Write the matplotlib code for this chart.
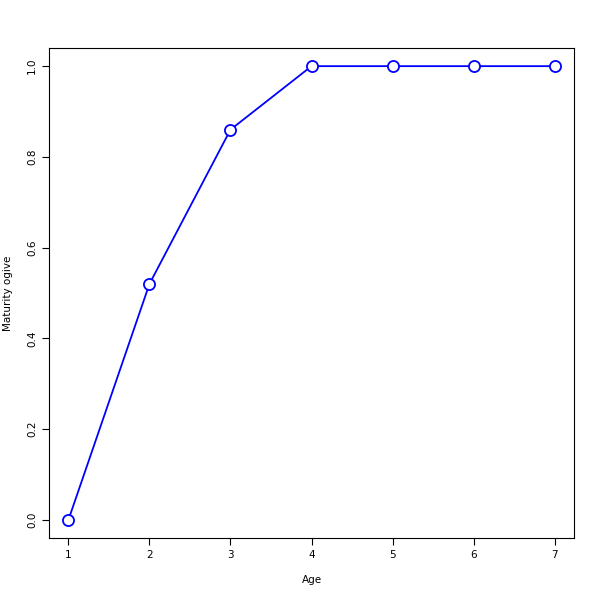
import numpy as np
import matplotlib
matplotlib.use("Agg")
import matplotlib.pyplot as plt

age = [1, 2, 3, 4, 5, 6, 7]
ogive = [0.0, 0.52, 0.86, 1.0, 1.0, 1.0, 1.0]

fig = plt.figure(figsize=(6, 6), dpi=100)
ax = fig.add_axes([49/600, 1-538/600, 525/600, 490/600])

ax.plot(age, ogive, color='blue', lw=1.3, marker='o', ms=8,
        mfc='white', mec='blue', mew=1.3)

ax.set_xlim(0.76, 7.24)
ax.set_ylim(-0.04, 1.04)
ax.set_xticks(age)
ax.set_yticks([0.0, 0.2, 0.4, 0.6, 0.8, 1.0])
ax.set_yticklabels(['0.0', '0.2', '0.4', '0.6', '0.8', '1.0'], rotation=90, va='center')
ax.tick_params(labelsize=7.5, length=5)
ax.set_xlabel('Age', fontsize=7.5)
ax.set_ylabel('Maturity ogive', fontsize=7.5)
# place axis labels where the reference has them (figure pixels from top-left)
ax.xaxis.set_label_coords(312/600, 1-580/600, transform=fig.transFigure)
ax.yaxis.set_label_coords(8/600, 1-293/600, transform=fig.transFigure)
ax.xaxis.label.set_va('center')
ax.yaxis.label.set_va('center')

fig.savefig('out.png', dpi=100)
